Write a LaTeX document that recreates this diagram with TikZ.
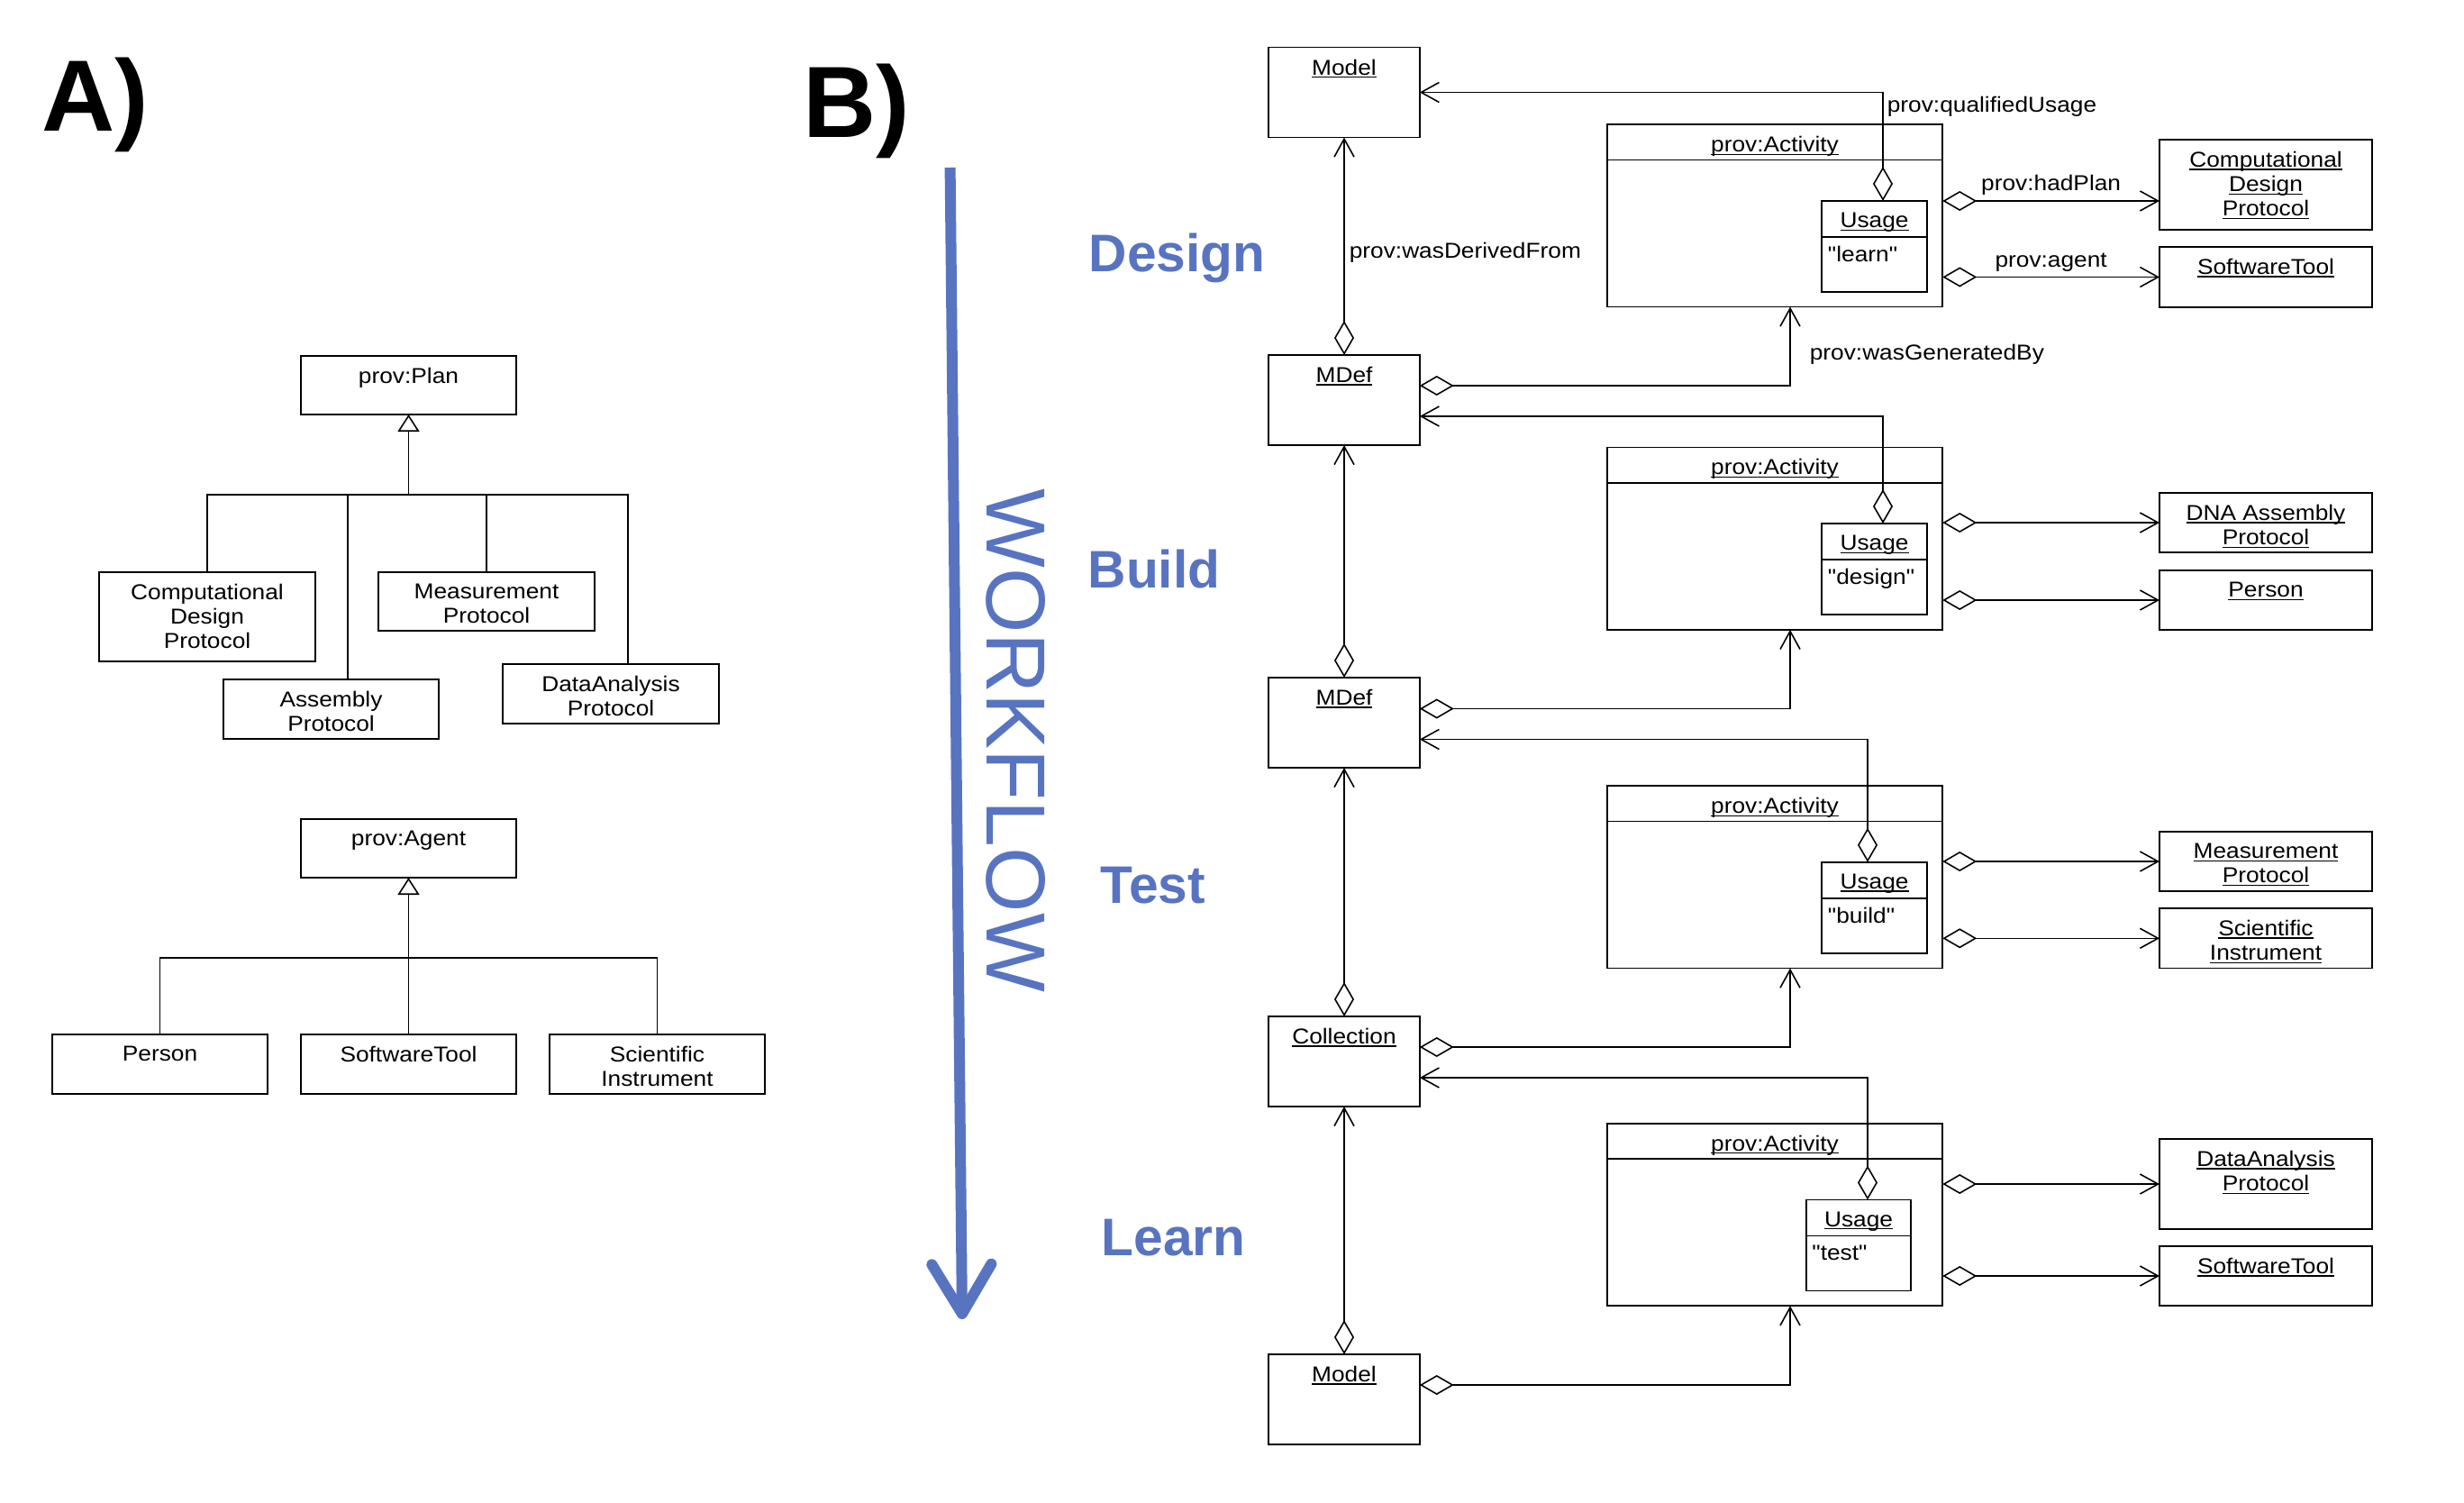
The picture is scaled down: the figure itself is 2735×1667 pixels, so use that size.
\documentclass[tikz,border=0pt]{standalone}
\usepackage{fontspec}
\setmainfont{Liberation Sans}
\newfontfamily\umlfont[FakeStretch=1.1]{Liberation Sans}
\usetikzlibrary{arrows.meta}
\definecolor{flowblue}{RGB}{88,116,193}
% underlined instance names (UML object notation)
\newcommand{\uln}[1]{\leavevmode\setbox0=\hbox{#1}\rlap{\rule[-0.9pt]{\wd0}{0.35pt}}\box0}

\tikzset{
  box/.style 2 args={draw, line width=0.45pt, inner sep=0pt, outer sep=0pt,
    minimum width=#1, minimum height=#2},
  umltext/.style={font=\umlfont\fontsize{6.8}{7.7}\selectfont},
  ttl/.style={umltext, anchor=north, inner xsep=0pt, inner ysep=1.25mm, align=center},
  val/.style={umltext, anchor=north west, inner sep=0pt, yshift=-0.95mm},
  lbl/.style={umltext, inner sep=0.5mm},
  divider/.style={line width=0.45pt},
  inheritline/.style={line width=0.45pt},
  gen/.style={inheritline, -{Triangle[open, length=1.9mm, width=2.4mm]}},
  agg/.style={line width=0.45pt,
    {Diamond[open, length=3.8mm, width=2.2mm]}-{Straight Barb[length=2mm, width=2.2mm]}},
  stage/.style={text=flowblue, font=\bfseries\fontsize{16.7}{16.7}\selectfont,
    anchor=base west, inner sep=0pt},
  panel/.style={font=\bfseries\fontsize{32}{32}\selectfont, anchor=base west, inner sep=0pt},
  flow/.style={draw=flowblue, line width=1.2mm,
    -{Straight Barb[length=5.5mm, width=6.6mm, round]}}
}

\begin{document}
\begin{tikzpicture}[x=0.1mm, y=-0.1mm]
  \useasboundingbox (0,0) rectangle (2735,1667);

  % Panel letters
  \node[panel] (labA) at (46,146) {A)};
  \node[panel] (labB) at (891,153) {B)};

  % A) prov:Plan hierarchy
  \node[box={23.9mm}{6.5mm}] (plan) at (453.5,427.5) {};
  \node[ttl] (planT) at (plan.north) {prov:Plan};
  \node[box={24mm}{9.9mm}] (cdp) at (230,684.5) {};
  \node[ttl] (cdpT) at (cdp.north) {Computational\\Design\\Protocol};
  \node[box={23.9mm}{6.6mm}] (asp) at (367.5,787) {};
  \node[ttl] (aspT) at (asp.north) {Assembly\\Protocol};
  \node[box={24mm}{6.5mm}] (msp) at (540,667.5) {};
  \node[ttl] (mspT) at (msp.north) {Measurement\\Protocol};
  \node[box={24mm}{6.6mm}] (dap) at (678,770) {};
  \node[ttl] (dapT) at (dap.north) {DataAnalysis\\Protocol};

  \coordinate (jp) at (453.5,549);
  \draw[gen] (jp) -- (plan.south);
  \draw[inheritline] (cdp.north) |- (jp);
  \draw[inheritline] ([xshift=1.85mm]asp.north) |- (jp);
  \draw[inheritline] (msp.north) |- (jp);
  \draw[inheritline] ([xshift=1.9mm]dap.north) |- (jp);

  % A) prov:Agent hierarchy
  \node[box={23.9mm}{6.5mm}] (agent) at (453.5,941.5) {};
  \node[ttl] (agentT) at (agent.north) {prov:Agent};
  \node[box={23.9mm}{6.6mm}] (person) at (177.5,1181) {};
  \node[ttl] (personT) at (person.north) {Person};
  \node[box={23.9mm}{6.6mm}] (stool) at (453.5,1181) {};
  \node[ttl] (stoolT) at (stool.north) {SoftwareTool};
  \node[box={23.9mm}{6.6mm}] (sci) at (729.5,1181) {};
  \node[ttl] (sciT) at (sci.north) {Scientific\\Instrument};

  \coordinate (ja) at (453.5,1063);
  \draw[gen] (ja) -- (agent.south);
  \draw[inheritline] (person.north) |- (ja);
  \draw[inheritline] (stool.north) -- (ja);
  \draw[inheritline] (sci.north) |- (ja);

  % B) workflow arrow and stage names
  \coordinate (wTop) at (1054.6,186);
  \coordinate (wBot) at (1068,1464);
  \draw[flow] (wTop) -- (wBot);
  \node[text=flowblue, font=\fontsize{26.5}{26.5}\selectfont, rotate=-90, inner sep=0pt]
    (wLab) at (1127.5,821.5) {WORKFLOW};
  \node[stage] (sDesign) at (1208,301) {Design};
  \node[stage] (sBuild) at (1207,652) {Build};
  \node[stage] (sTest) at (1221,1002) {Test};
  \node[stage] (sLearn) at (1222,1393) {Learn};

  % B) products of each stage
  \foreach \n/\y/\t in {model1/102.5/Model, mdef1/444/MDef, mdef2/802/MDef,
                        coll/1178/Collection, model2/1553/Model} {
    \node[box={16.75mm}{10mm}] (\n) at (1492,\y) {};
    \node[ttl] (t\n) at (\n.north) {\uln{\t}};
  }

  % B) activities with their usage
  \foreach \i/\ay/\ux/\uy/\uval in {1/239.3/2080.5/273.5/learn, 2/597.6/2080.5/631.5/design,
                                    3/973.3/2080.5/1007.3/build, 4/1348/2063/1382/test} {
    \node[box={37.25mm}{20.25mm}] (act\i) at (1970,\ay) {};
    \node[ttl] (actT\i) at (act\i.north) {\uln{prov:Activity}};
    \draw[divider] ([yshift=-3.95mm]act\i.north west) -- ([yshift=-3.95mm]act\i.north east);
    \node[box={11.65mm}{10.1mm}] (use\i) at (\ux,\uy) {};
    \node[ttl] (useT\i) at (use\i.north) {\uln{Usage}};
    \draw[divider] ([yshift=-4mm]use\i.north west) -- ([yshift=-4mm]use\i.north east);
    \node[val] (useV\i) at ([xshift=0.6mm, yshift=-4mm]use\i.north west) {"\uval"};
  }

  % B) plans and agents
  \node[box={23.6mm}{10mm}] (plan1) at (2515,205) {};
  \node[ttl] (planT1) at (plan1.north) {\uln{Computational}\\\uln{Design}\\\uln{Protocol}};
  \node[box={23.6mm}{6.7mm}] (agent1) at (2515,307.5) {};
  \node[ttl] (agentT1) at (agent1.north) {\uln{SoftwareTool}};
  \node[box={23.6mm}{6.6mm}] (plan2) at (2515,580) {};
  \node[ttl] (planT2) at (plan2.north) {\uln{DNA Assembly}\\\uln{Protocol}};
  \node[box={23.6mm}{6.6mm}] (agent2) at (2515,666) {};
  \node[ttl] (agentT2) at (agent2.north) {\uln{Person}};
  \node[box={23.6mm}{6.6mm}] (plan3) at (2515,956) {};
  \node[ttl] (planT3) at (plan3.north) {\uln{Measurement}\\\uln{Protocol}};
  \node[box={23.6mm}{6.66mm}] (agent3) at (2515,1041.3) {};
  \node[ttl] (agentT3) at (agent3.north) {\uln{Scientific}\\\uln{Instrument}};
  \node[box={23.6mm}{10mm}] (plan4) at (2515,1314) {};
  \node[ttl] (planT4) at (plan4.north) {\uln{DataAnalysis}\\\uln{Protocol}};
  \node[box={23.6mm}{6.6mm}] (agent4) at (2515,1416) {};
  \node[ttl] (agentT4) at (agent4.north) {\uln{SoftwareTool}};

  % B) wasDerivedFrom chain
  \draw[agg] (mdef1.north) -- node[lbl, anchor=west, pos=0.47] (lDer) {prov:wasDerivedFrom} (model1.south);
  \draw[agg] (mdef2.north) -- (mdef1.south);
  \draw[agg] (coll.north) -- (mdef2.south);
  \draw[agg] (model2.north) -- (coll.south);

  % B) wasGeneratedBy
  \draw[agg] ([yshift=1.6mm]mdef1.east) -| node[lbl, anchor=west, pos=0.7, xshift=1.6mm] (lGen) {prov:wasGeneratedBy} ([xshift=1.7mm]act1.south);
  \draw[agg] ([yshift=1.55mm]mdef2.east) -| ([xshift=1.7mm]act2.south);
  \draw[agg] ([yshift=1.6mm]coll.east) -| ([xshift=1.7mm]act3.south);
  \draw[agg] ([yshift=1.6mm]model2.east) -| ([xshift=1.7mm]act4.south);

  % B) qualifiedUsage
  \draw[agg] ([xshift=0.95mm]use1.north) |- node[lbl, anchor=north west, inner sep=0.4mm] (lUse) {prov:qualifiedUsage} (model1.east);
  \draw[agg] ([xshift=0.95mm]use2.north) |- ([yshift=-1.8mm]mdef1.east);
  \draw[agg] ([xshift=-0.75mm]use3.north) |- ([yshift=-1.85mm]mdef2.east);
  \draw[agg] ([xshift=1mm]use4.north) |- ([yshift=-1.8mm]coll.east);

  % B) hadPlan and agent
  \draw[agg] (act1.east |- use1.north) -- node[lbl, above, inner sep=0.6mm] (lPlan) {prov:hadPlan} (plan1.west |- use1.north);
  \draw[agg] (act1.east |- agent1.west) -- node[lbl, above, inner sep=0.5mm] (lAgent) {prov:agent} (agent1.west);
  \foreach \i in {2,3,4} {
    \draw[agg] (act\i.east |- plan\i.west) -- (plan\i.west);
    \draw[agg] (act\i.east |- agent\i.west) -- (agent\i.west);
  }
\end{tikzpicture}
\end{document}
